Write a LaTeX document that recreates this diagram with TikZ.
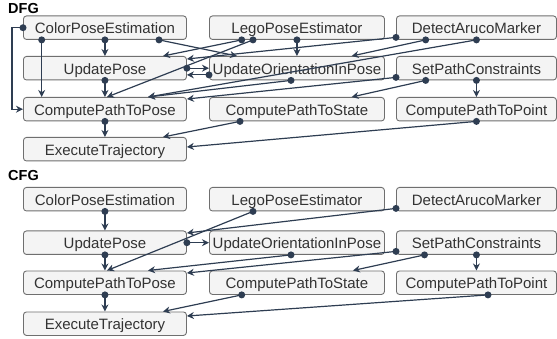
\documentclass[tikz,border=0pt]{standalone}
\usepackage{fontspec}
\setmainfont{Liberation Sans}
\usetikzlibrary{arrows.meta}
\definecolor{conncol}{HTML}{2E3D52}
\definecolor{boxfill}{HTML}{F4F4F4}
\definecolor{boxdraw}{HTML}{6F6F6F}
\definecolor{txt}{HTML}{333333}
\newcommand\cn[2]{\draw[conn] #1 -- #2; \fill[conncol] #1 circle[radius=3.5pt];}
\begin{document}
\begin{tikzpicture}[x=1pt,y=-1pt,
  box/.style={draw=boxdraw, fill=boxfill, line width=0.9pt, rounded corners=3pt,
    minimum height=23.5pt, inner sep=0pt, anchor=north west, text=txt,
    text height=12pt, text depth=0pt, font=\fontsize{15}{18}\selectfont},
  ca/.style={box, minimum width=163pt},
  cb/.style={box, minimum width=175pt},
  cc/.style={box, minimum width=160pt},
  conn/.style={draw=conncol, line width=1.2pt, -{Stealth[length=7pt,width=7pt,inset=2.2pt]}},
  title/.style={anchor=base west, inner sep=0pt, font=\bfseries\fontsize{14.5}{17}\selectfont}]
\useasboundingbox (0,0) rectangle (557,339);

\node[title] (tdfg) at (8,13.5) {DFG};
\node[title] (tcfg) at (8,180.5) {CFG};

% DFG nodes
\node[ca] (dcpe) at (23,15.5) {ColorPoseEstimation};
\node[cb] (dlpe) at (209,15.5) {LegoPoseEstimator};
\node[cc] (dda) at (396,15.5) {DetectArucoMarker};
\node[ca] (dup) at (23,56) {UpdatePose};
\node[cb] (duo) at (209,56) {UpdateOrientationInPose};
\node[cc] (dspc) at (396,56) {SetPathConstraints};
\node[ca] (dcptp) at (23,97) {ComputePathToPose};
\node[cb] (dcpts) at (209,97) {ComputePathToState};
\node[cc] (dcptpt) at (396,97) {ComputePathToPoint};
\node[ca] (det) at (23,137) {ExecuteTrajectory};

% CFG nodes
\node[ca] (ccpe) at (23,187) {ColorPoseEstimation};
\node[cb] (clpe) at (209,187) {LegoPoseEstimator};
\node[cc] (cda) at (396,187) {DetectArucoMarker};
\node[ca] (cup) at (23,230.5) {UpdatePose};
\node[cb] (cuo) at (209,230.5) {UpdateOrientationInPose};
\node[cc] (cspc) at (396,230.5) {SetPathConstraints};
\node[ca] (ccptp) at (23,270.5) {ComputePathToPose};
\node[cb] (ccpts) at (209,270.5) {ComputePathToState};
\node[cc] (ccptpt) at (396,270.5) {ComputePathToPoint};
\node[ca] (cet) at (23,311.5) {ExecuteTrajectory};

% DFG connectors
\draw[conn] (dcpe.west) -- ++(-11,0) |- (dcptp.west);
\fill[conncol] (dcpe.west) circle[radius=3.5pt];
\cn{([xshift=18.7pt]dcpe.south west)}{([xshift=18.7pt]dcptp.north west)}
\cn{(dcpe.south)}{(dup.north)}
\cn{([xshift=136pt]dcpe.south west)}{([xshift=28pt]duo.north west)}
\cn{([xshift=32.7pt]dlpe.south west)}{([xshift=140pt]dup.north west)}
\cn{([xshift=44pt]dlpe.south west)}{([xshift=84pt]dcptp.north west)}
\cn{(dlpe.south)}{(duo.north)}
\cn{([yshift=2.5pt]dda.south west)}{([yshift=-3pt]dup.north east)}
\cn{([xshift=29.7pt]dda.south west)}{([xshift=142.7pt]duo.north west)}
\cn{(dda.south)}{([xshift=125pt]dcptp.north west)}
\cn{(dup.east)}{(duo.west)}
\cn{([yshift=5.5pt]duo.south west)}{([yshift=5.5pt]dup.south east)}
\cn{(dup.south)}{(dcptp.north)}
\cn{([xshift=82pt]duo.south west)}{([xshift=125pt]dcptp.north west)}
\cn{([yshift=3pt]dspc.south west)}{([yshift=-2pt]dcptp.north east)}
\cn{([xshift=29.7pt]dspc.south west)}{([xshift=142.7pt]dcpts.north west)}
\cn{(dspc.south)}{(dcptpt.north)}
\cn{(dcptp.south)}{(det.north)}
\cn{([xshift=31pt]dcpts.south west)}{([xshift=140pt]det.north west)}
\cn{(dcptpt.south)}{([yshift=-10pt]det.north east)}

% CFG connectors
\cn{(ccpe.south)}{(cup.north)}
\cn{([xshift=44pt]clpe.south west)}{([xshift=84pt]ccptp.north west)}
\cn{([yshift=3pt]cda.south west)}{([yshift=-2.5pt]cup.north east)}
\cn{(cup.east)}{(cuo.west)}
\cn{([xshift=82pt]cuo.south west)}{([xshift=125pt]ccptp.north west)}
\cn{([yshift=3.5pt]cspc.south west)}{([yshift=-2.5pt]ccptp.north east)}
\cn{([xshift=28.5pt]cspc.south west)}{([xshift=144pt]ccpts.north west)}
\cn{(cspc.south)}{(ccptpt.north)}
\cn{(cup.south)}{(ccptp.north)}
\cn{(ccptp.south)}{(cet.north)}
\cn{([xshift=32.7pt]ccpts.south west)}{([xshift=140pt]cet.north west)}
\cn{([xshift=92pt]ccptpt.south west)}{([yshift=-4.5pt]cet.north east)}
\end{tikzpicture}
\end{document}
